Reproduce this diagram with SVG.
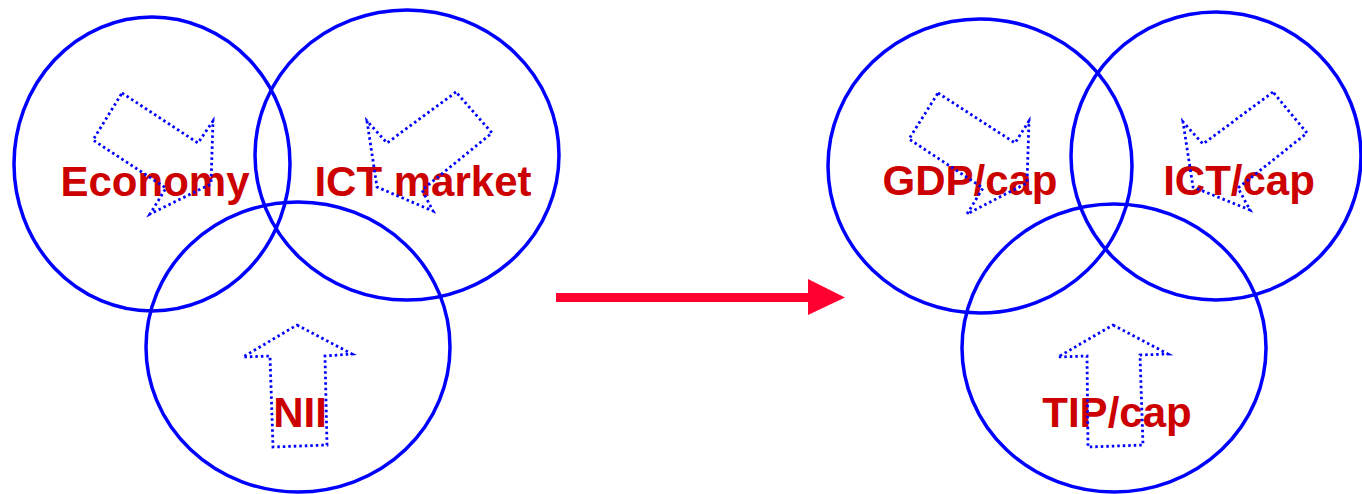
<svg xmlns="http://www.w3.org/2000/svg" width="1362" height="494" viewBox="0 0 1362 494">
  <style>
    .ring { fill: none; stroke: #0000FF; stroke-width: 3.5; }
    .label { font-family: "Liberation Sans", Arial, sans-serif; font-weight: bold; font-size: 42px; fill: #CC0000; text-anchor: middle; }
    .flow { fill: none; stroke: #0000FF; stroke-width: 2.8; stroke-dasharray: 2.5 3; stroke-linejoin: miter; }
  </style>
  <rect width="1362" height="494" fill="#FFFFFF"/>

  <!-- left set: three overlapping domains -->
  <g id="economy">
    <text class="label" x="155" y="196">Economy</text>
    <polygon class="flow" points="122,93 198,143 213,121 211,184 150,214 166,188 93,140"/>
    <ellipse class="ring" cx="152" cy="164" rx="138" ry="147"/>
  </g>
  <g id="ict-market">
    <text class="label" x="423" y="196">ICT market</text>
    <polygon class="flow" points="456,92 387,143 367,121 377,187 433,211 422,190 492,133"/>
    <ellipse class="ring" cx="407" cy="155" rx="152" ry="145"/>
  </g>
  <g id="nii">
    <text class="label" x="300" y="427">NII</text>
    <polygon class="flow" points="297,325 352,354 325,356 327,445 273,447 270,356 243,357"/>
    <ellipse class="ring" cx="298" cy="347" rx="152" ry="145"/>
  </g>

  <!-- right set: per-capita indicators -->
  <g id="gdp-cap">
    <text class="label" x="970" y="195">GDP/cap</text>
    <polygon class="flow" points="938,93 1015,143 1029,121 1027,183 967,214 983,188 909,139"/>
    <ellipse class="ring" cx="980" cy="166" rx="152" ry="147"/>
  </g>
  <g id="ict-cap">
    <text class="label" x="1239" y="195">ICT/cap</text>
    <polygon class="flow" points="1273,92 1203,144 1183,122 1193,187 1250,210 1238,188 1307,133"/>
    <ellipse class="ring" cx="1216" cy="156" rx="145" ry="144"/>
  </g>
  <g id="tip-cap">
    <text class="label" x="1117" y="427">TIP/cap</text>
    <polygon class="flow" points="1113,325 1168,354 1140,355 1143,445 1088,447 1087,356 1058,357"/>
    <ellipse class="ring" cx="1114" cy="348" rx="152" ry="144"/>
  </g>

  <!-- transition arrow between the two sets -->
  <g id="connectors">
    <rect x="556" y="293" width="254" height="9" fill="#FF0030"/>
    <polygon points="808,279 845,297.5 808,315" fill="#FF0030"/>
  </g>
</svg>
